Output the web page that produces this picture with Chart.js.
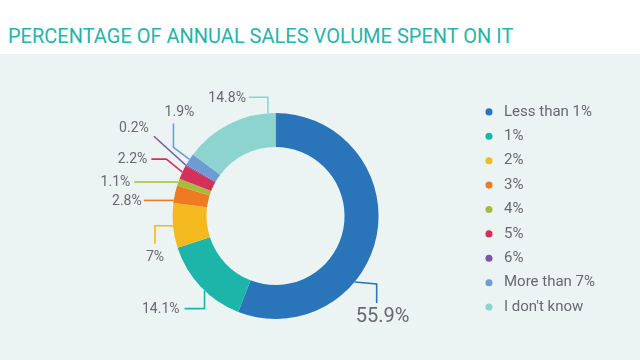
<!DOCTYPE html>
<html>
<head>
<meta charset="utf-8">
<script src="https://cdn.jsdelivr.net/npm/chart.js@4"></script>
<style>
  html, body { margin: 0; padding: 0; }
  body { width: 640px; height: 360px; overflow: hidden; background: #ebf4f3; }
  .header { height: 54px; background: #fff; position: relative; }
  .header h1 {
    position: absolute; left: 8px; top: 23px; margin: 0;
    font: 400 20px Roboto, sans-serif; color: #27b3ab;
    line-height: 26px; white-space: nowrap;
  }
  .wrap { width: 640px; height: 306px; position: relative; }
</style>
</head>
<body>
<div class="header"><h1>PERCENTAGE OF ANNUAL SALES VOLUME SPENT ON IT</h1></div>
<div class="wrap"><canvas id="myChart"></canvas></div>
<script>
const categories = ['Less than 1%', '1%', '2%', '3%', '4%', '5%', '6%', 'More than 7%', "I don't know"];
const shares = [55.9, 14.1, 7, 2.8, 1.1, 2.2, 0.2, 1.9, 14.8];
const valueLabels = ['55.9%', '14.1%', '7%', '2.8%', '1.1%', '2.2%', '0.2%', '1.9%', '14.8%'];
const colors = ['#2a74b9', '#1db5a9', '#f3b91f', '#ee7b22', '#a8bc3b', '#d3315b', '#7b56a4', '#6d9cd3', '#8dd4d1'];

// where each leader line leaves its slice (0..1 along the arc) and how it bends
const leaders = [
    { at: 0.645, path: [[22, 2], [22, 21]], text: [1, 35], align: 'left', size: 20 },
    { at: 0.44, path: [[0, 18], [-20, 18]], text: [-25, 19], align: 'right' },
    { at: 0.5, path: [[-18, 0], [-18, 18]], text: [-18, 32], align: 'center' },
    { at: 0.15, path: [[-30, 0]], text: [-32, 1], align: 'right' },
    { at: 0.5, path: [[-44, 0]], text: [-48, 0], align: 'right' },
    { at: 0.5, path: [[-16, -13], [-31, -13]], text: [-35, -13], align: 'right' },
    { at: 0.5, path: [[-32, -29]], text: [-52, -37], align: 'center' },
    { at: 0.5, path: [[-16, -12], [-16, -36]], text: [-10, -47], align: 'center' },
    { at: 0.92, path: [[0, -16], [-19, -16]], text: [-22, -15], align: 'right' },
];

const leaderLabels = {
    id: 'leaderLabels',
    afterDatasetsDraw(chart) {
        const ctx = chart.ctx;
        const meta = chart.getDatasetMeta(0);
        meta.data.forEach((arc, i) => {
            const l = leaders[i];
            const p = arc.getProps(['x', 'y', 'startAngle', 'endAngle', 'outerRadius'], true);
            const a = p.startAngle + (p.endAngle - p.startAngle) * l.at;
            const ax = p.x + Math.cos(a) * p.outerRadius;
            const ay = p.y + Math.sin(a) * p.outerRadius;
            ctx.save();
            ctx.strokeStyle = colors[i];
            ctx.lineWidth = 1.6;
            ctx.beginPath();
            ctx.moveTo(ax, ay);
            l.path.forEach(pt => ctx.lineTo(ax + pt[0], ay + pt[1]));
            ctx.stroke();
            ctx.fillStyle = '#666a6e';
            ctx.font = (l.size || 14) + 'px Roboto';
            ctx.textAlign = l.align;
            ctx.textBaseline = 'middle';
            ctx.fillText(valueLabels[i], ax + l.text[0], ay + l.text[1]);
            ctx.restore();
        });
    }
};

new Chart(document.getElementById('myChart'), {
    type: 'doughnut',
    data: {
        labels: categories,
        datasets: [{
            data: shares,
            backgroundColor: colors,
            borderWidth: 0,
            radius: 103,
        }]
    },
    options: {
        responsive: true,
        maintainAspectRatio: false,
        animation: false,
        cutout: '67%',
        layout: {
            padding: { left: 79, right: 35, top: 41, bottom: 23 }
        },
        plugins: {
            legend: {
                position: 'right',
                align: 'start',
                labels: {
                    usePointStyle: true,
                    pointStyle: 'circle',
                    boxWidth: 17,
                    boxHeight: 5,
                    padding: 9.4,
                    color: '#666a6e',
                    font: { family: 'Roboto', size: 15 }
                }
            },
            tooltip: { enabled: false }
        }
    },
    plugins: [leaderLabels]
});
</script>
</body>
</html>
